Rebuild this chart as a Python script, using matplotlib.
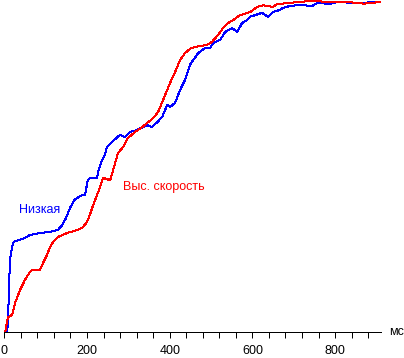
import matplotlib.pyplot as plt
import numpy as np

# time, ms / response, %
LOW_T = [0, 6, 9, 11, 14, 19, 23, 38, 50, 62, 86, 110, 130, 140, 149, 159, 169,
         188, 195, 202, 207, 224, 227, 236, 244, 248, 261, 273, 280, 292, 304,
         321, 345, 357, 370, 382, 394, 401, 413, 425, 437, 449, 457, 469, 485,
         498, 505, 522, 534, 551, 563, 575, 587, 594, 623, 638, 650, 667, 674,
         691, 715, 745, 757, 788, 805, 850, 909]
LOW_V = [0, 0.3, 2, 13, 22, 26, 27.3, 28, 28.5, 29.4, 30, 30.3, 31, 32.4, 34.5,
         37.6, 40, 41.5, 41.5, 46, 46.7, 46.7, 48.5, 52, 54, 56, 57.6, 59, 59.7,
         59.1, 60.6, 61.2, 62.7, 62.1, 63.6, 65.2, 68.8, 68.2, 69.4, 73.3, 76.4,
         81, 82.4, 84.5, 86, 86, 87.6, 88.5, 90.9, 92.1, 90.9, 93.6, 94.5, 95.5,
         96.7, 95.5, 97, 97.6, 98.2, 98.8, 99.1, 98.8, 99.7, 99.4, 100, 99.7, 100]

FAST_T = [0, 2, 9, 19, 26, 38, 50, 62, 67, 86, 94, 103, 111, 118, 130, 152,
          176, 188, 200, 207, 215, 227, 239, 256, 263, 275, 287, 299, 316, 333,
          345, 360, 372, 384, 401, 413, 425, 437, 449, 461, 490, 502, 517, 529,
          541, 553, 570, 595, 611, 626, 650, 660, 691, 708, 747, 788, 829, 870,
          909]
FAST_V = [0, 0, 4.5, 5.2, 8.8, 12.7, 15.8, 18.2, 18.8, 18.8, 21, 23.3, 25.8,
          27.3, 28.8, 30, 30.9, 31.5, 33.3, 35.5, 38.5, 42.4, 46.7, 46, 49, 54.2,
          56, 58.8, 60.6, 62, 63.3, 64.8, 66.7, 70.3, 75.5, 78.8, 82.4, 84.5,
          85.8, 86.4, 87, 87.9, 90, 92.1, 93.6, 94.5, 96, 97, 98.5, 99, 98.5,
          99.4, 99.7, 100, 100.3, 100, 100, 99.5, 100]

MAJOR = [0, 200, 400, 600, 800]
MINOR = np.arange(0, 900, 40)

plt.rcParams['font.family'] = ['Liberation Sans', 'DejaVu Sans']

fig = plt.figure(figsize=(4.04, 3.58), dpi=100)
ax = fig.add_axes([4.3 / 404, 26 / 358, (381 - 4.3) / 404, 332 / 358])

ax.plot(LOW_T, LOW_V, color='#0000ff', lw=0.72, antialiased=False)
ax.plot(FAST_T, FAST_V, color='#ff0000', lw=0.72, antialiased=False)

ax.text(36, 37, 'Низкая', color='#0000ff', fontsize=9, va='center', ha='left')
ax.text(286, 44, 'Выс. скорость', color='#ff0000', fontsize=9, va='center', ha='left')

ax.set_xlim(0, 911)
ax.set_ylim(0, 100.6)
for s in ['left', 'right', 'top']:
    ax.spines[s].set_visible(False)
ax.spines['bottom'].set_linewidth(0.72)
ax.set_yticks([])
ax.set_xticks(MAJOR)
ax.set_xticks(MINOR, minor=True)
ax.tick_params(axis='x', which='both', length=4, width=0.72, labelsize=9, pad=5)
ax.set_facecolor('none')

fig.text(389 / 404, 1 - 332 / 358, 'мс', fontsize=9, va='center', ha='left')

fig.savefig('out.png', dpi=100)
